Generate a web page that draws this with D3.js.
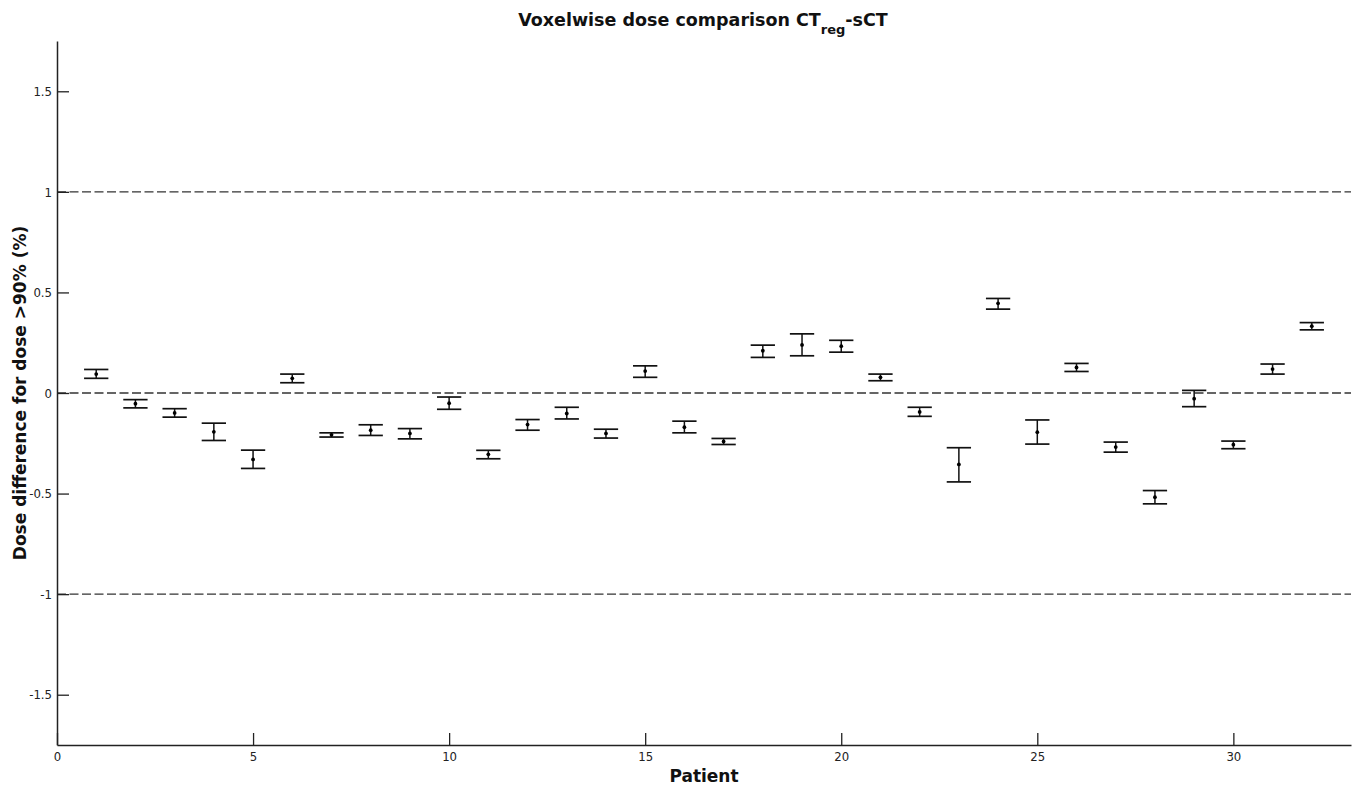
<!DOCTYPE html>
<html>
<head>
<meta charset="utf-8">
<script src="https://cdn.jsdelivr.net/npm/d3@7"></script>
<style>
  body { margin: 0; background: #fff; }
  svg { display: block; }
  .title, .label { font-family: "DejaVu Sans", sans-serif; font-weight: bold; fill: #111; }
</style>
</head>
<body>
<svg id="chart"></svg>
<script>
// patient number, mean difference and error bar ends (%)
var patients = [1, 2, 3, 4, 5, 6, 7, 8, 9, 10, 11, 12, 13, 14, 15, 16,
                17, 18, 19, 20, 21, 22, 23, 24, 25, 26, 27, 28, 29, 30, 31, 32];
var means = [0.094, -0.053, -0.099, -0.193, -0.330, 0.073, -0.208, -0.185, -0.201, -0.051, -0.305, -0.157,
             -0.102, -0.201, 0.109, -0.170, -0.241, 0.210, 0.239, 0.233, 0.078, -0.094, -0.355, 0.446,
             -0.195, 0.127, -0.269, -0.518, -0.028, -0.257, 0.119, 0.332];
var uppers = [0.117, -0.033, -0.078, -0.150, -0.284, 0.094, -0.198, -0.158, -0.177, -0.020, -0.285, -0.132,
              -0.071, -0.180, 0.135, -0.140, -0.226, 0.238, 0.294, 0.262, 0.094, -0.071, -0.272, 0.470,
              -0.134, 0.147, -0.244, -0.485, 0.013, -0.239, 0.144, 0.350];
var lowers = [0.073, -0.074, -0.120, -0.236, -0.375, 0.051, -0.219, -0.211, -0.228, -0.081, -0.327, -0.185,
              -0.129, -0.224, 0.078, -0.198, -0.256, 0.177, 0.185, 0.203, 0.061, -0.116, -0.442, 0.417,
              -0.254, 0.107, -0.294, -0.551, -0.068, -0.277, 0.094, 0.314];
var refLines = [1, 0, -1];
var xTicks = [0, 5, 10, 15, 20, 25, 30];
var yTicks = [-1.5, -1, -0.5, 0, 0.5, 1, 1.5];

var data = patients.map(function(p, i) {
  return { patient: p, mean: means[i], lo: lowers[i], hi: uppers[i] };
});

var W = 1358, H = 787;
var margin = {top: 41, right: 7, bottom: 42, left: 57};
var width = W - margin.left - margin.right;
var height = H - margin.top - margin.bottom;

var svg = d3.select("#chart").attr("width", W).attr("height", H);

var x = d3.scaleLinear().domain([0, 33]).range([0, width]);
var y = d3.scaleLinear().domain([-1.75, 1.75]).range([height, 0]);

var g = svg.append("g")
    .attr("transform", "translate(" + margin.left + "," + margin.top + ")");

// reference lines
g.selectAll(".ref")
  .data(refLines)
  .enter().append("line")
    .attr("class", "ref")
    .attr("x1", 0)
    .attr("x2", width)
    .attr("y1", function(d) { return y(d); })
    .attr("y2", function(d) { return y(d); })
    .attr("stroke", "#333")
    .attr("stroke-width", 1.4)
    .attr("stroke-dasharray", "9,3.5");

// plain hyphen for negatives, as in the original
var fmt = function(d) { return String(d); };

// axes, ticks pointing inward like matlab
var xAxis = d3.axisBottom(x).tickValues(xTicks).tickSize(-12).tickPadding(7).tickSizeOuter(0)
    .tickFormat(fmt);
var yAxis = d3.axisLeft(y).tickValues(yTicks).tickSize(-12).tickPadding(5).tickSizeOuter(0)
    .tickFormat(fmt);

g.append("g")
    .attr("class", "axis axis--x")
    .attr("transform", "translate(0," + height + ")")
    .call(xAxis);

g.append("g")
    .attr("class", "axis axis--y")
    .call(yAxis);

g.selectAll(".axis")
    .attr("font-family", "'DejaVu Sans Condensed', 'DejaVu Sans', sans-serif")
    .attr("font-size", 13);
g.selectAll(".axis text").attr("fill", "#222");
g.selectAll(".axis path").attr("stroke", "#222").attr("stroke-width", 1.5);
g.selectAll(".axis line").attr("stroke", "#222").attr("stroke-width", 1.3);

// error bars
var capHalf = 0.31;
var bars = g.selectAll(".bar")
  .data(data)
  .enter().append("g")
    .attr("class", "bar");

bars.append("line")
    .attr("x1", function(d) { return x(d.patient); })
    .attr("x2", function(d) { return x(d.patient); })
    .attr("y1", function(d) { return y(d.hi); })
    .attr("y2", function(d) { return y(d.lo); })
    .attr("stroke", "#111")
    .attr("stroke-width", 1.5);

bars.append("line")
    .attr("x1", function(d) { return x(d.patient - capHalf); })
    .attr("x2", function(d) { return x(d.patient + capHalf); })
    .attr("y1", function(d) { return y(d.hi); })
    .attr("y2", function(d) { return y(d.hi); })
    .attr("stroke", "#111")
    .attr("stroke-width", 1.7);

bars.append("line")
    .attr("x1", function(d) { return x(d.patient - capHalf); })
    .attr("x2", function(d) { return x(d.patient + capHalf); })
    .attr("y1", function(d) { return y(d.lo); })
    .attr("y2", function(d) { return y(d.lo); })
    .attr("stroke", "#111")
    .attr("stroke-width", 1.7);

bars.append("circle")
    .attr("cx", function(d) { return x(d.patient); })
    .attr("cy", function(d) { return y(d.mean); })
    .attr("r", 1.9)
    .attr("fill", "#000");

// title with subscript
var title = svg.append("text")
    .attr("class", "title")
    .attr("x", 703)
    .attr("y", 26)
    .attr("text-anchor", "middle")
    .style("font-size", "17.5px");
title.append("tspan").text("Voxelwise dose comparison CT");
title.append("tspan").attr("dy", 8).style("font-size", "13px").text("reg");
title.append("tspan").attr("dy", -8).text("-sCT");

svg.append("text")
    .attr("class", "label")
    .attr("x", margin.left + x(16.5))
    .attr("y", 782)
    .attr("text-anchor", "middle")
    .style("font-size", "17px")
    .text("Patient");

svg.append("text")
    .attr("class", "label")
    .attr("transform", "translate(26," + (margin.top + y(0)) + ") rotate(-90)")
    .attr("text-anchor", "middle")
    .style("font-size", "17px")
    .text("Dose difference for dose >90% (%)");
</script>
</body>
</html>
